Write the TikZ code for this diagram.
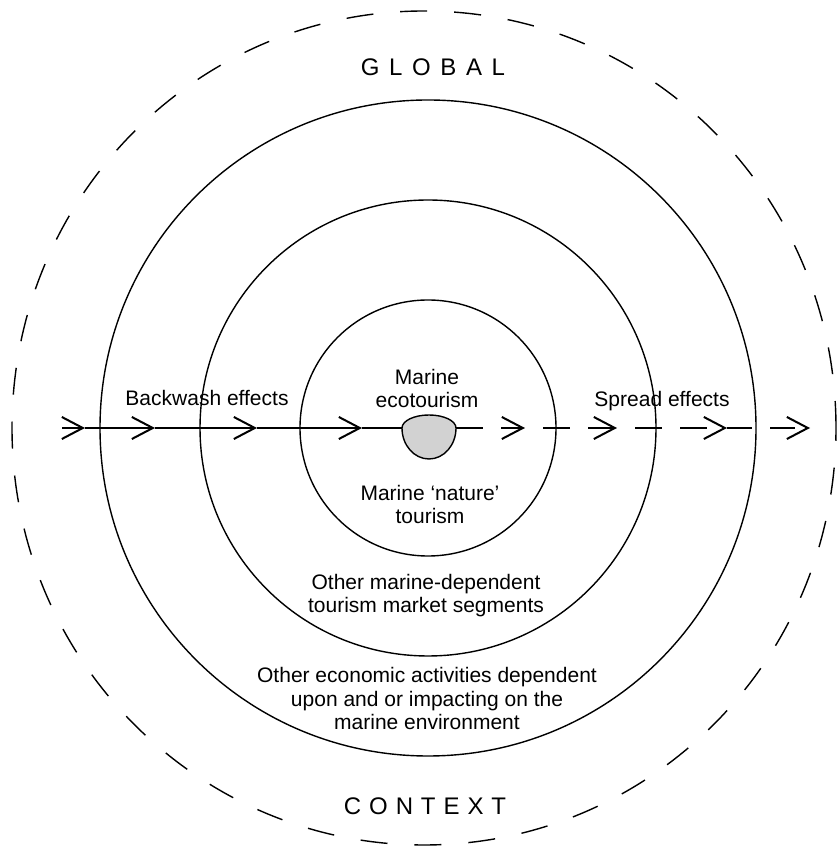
\documentclass[tikz,border=0pt]{standalone}
\usepackage{fontspec}
\setmainfont{Liberation Sans}
\newfontfamily\widefont[LetterSpace=40]{Liberation Sans}
\newfontfamily\narrowfont[LetterSpace=33]{Liberation Sans}
\usetikzlibrary{arrows.meta}

\tikzset{
  ring/.style={line width=1.4pt},
  outerring/.style={line width=1.4pt, dash pattern=on 27pt off 27pt},
  flow/.style={line width=2pt, -{Straight Barb[length=21pt,width=22pt]}},
  spread/.style={flow, dash pattern=on 27pt off 18pt},
  ringtext/.style={font=\fontsize{21}{23.5}\selectfont, align=center, inner sep=0pt},
  scaletext/.style={font=\widefont\fontsize{24}{28}\selectfont, inner sep=0pt},
  hub/.style={fill=gray!35, draw=black, line width=1.4pt},
}

\begin{document}
\begin{tikzpicture}[x=1pt,y=1pt]
\useasboundingbox (0,0) rectangle (839,848);

% rings
\coordinate (c) at (428,420);
\draw[outerring] (424,420) ellipse[x radius=412pt, y radius=417pt];
\draw[ring] (c) circle[radius=328pt];
\draw[ring] (c) circle[radius=228pt];
\draw[ring] (c) circle[radius=128pt];

% hub
\coordinate (hubW) at (402,420);
\coordinate (hubE) at (456,420);
\filldraw[hub] (hubW) arc[start angle=180, end angle=360, x radius=27pt, y radius=31pt]
  arc[start angle=0, end angle=180, x radius=27pt, y radius=13pt] -- cycle;

% backwash side
\coordinate (w0) at (62,420);
\coordinate (w1) at (85,420);
\coordinate (w2) at (155,420);
\coordinate (w3) at (257,420);
\coordinate (w4) at (362,420);
\draw[flow] (w0) -- (w1);
\draw[flow] (w1) -- (w2);
\draw[flow] (w2) -- (w3);
\draw[flow] (w3) -- (w4);
\draw[line width=2pt] (w4) -- (hubW);

% spread side
\coordinate (e1) at (525,420);
\coordinate (e2) at (617,420);
\coordinate (e3) at (727,420);
\coordinate (e4) at (810,420);
\draw[spread] (hubE) -- (e1);
\draw[spread, dash phase=27pt] (e1) -- (e2);
\draw[spread, dash phase=27pt] (e2) -- (e3);
\draw[spread, dash pattern=on 25pt off 18pt] (e3) -- (e4);

% texts (base = last line)
\node[ringtext, anchor=base] (backwash) at (207,442) {Backwash effects};
\node[ringtext, anchor=base] (spreadtxt) at (662,441) {Spread effects};
\node[ringtext, anchor=base] (core) at (427,440) {Marine\\ecotourism};
\node[ringtext, anchor=base] (nature) at (430,324) {Marine ‘nature’\\tourism};
\node[ringtext, anchor=base] (segments) at (426,235) {Other marine-dependent\\tourism market segments};
\node[ringtext, anchor=base] (economic) at (427,118) {Other economic activities dependent\\upon and or impacting on the\\marine environment};
\node[scaletext, anchor=base] (global) at (433,772) {GLOBAL};
\node[scaletext, font=\narrowfont\fontsize{24}{28}\selectfont, anchor=base] (context) at (425,33) {CONTEXT};

\end{tikzpicture}
\end{document}
